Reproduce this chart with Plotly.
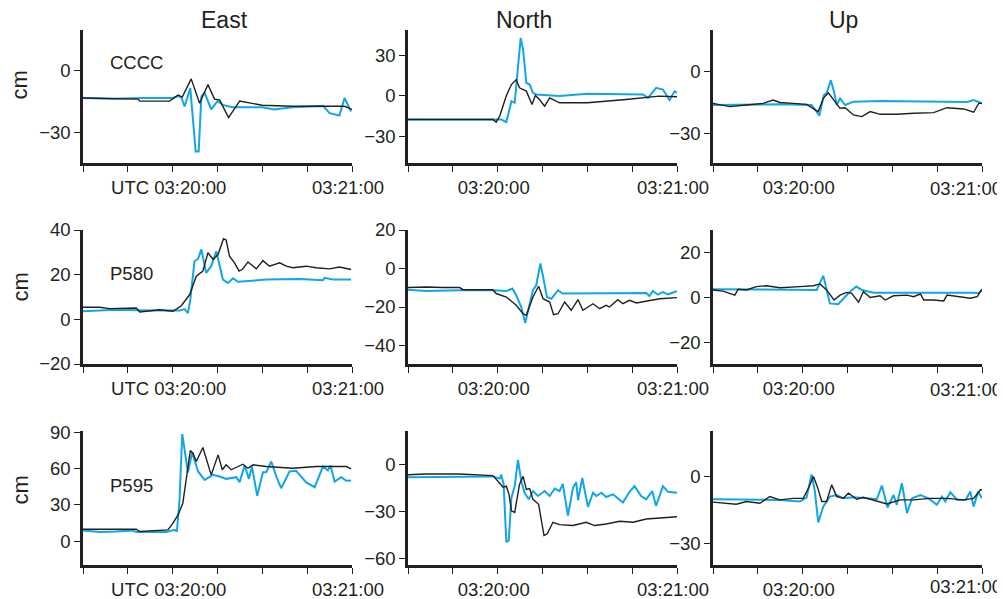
import plotly.graph_objects as go

# ---------------- data (seconds relative to UTC 03:20:00) ----------------
tick_vals = [-30, -15, 0, 15, 30, 45, 60]
tick_text_first = ["", "", "UTC 03:20:00", "", "", "", "03:21:00"]
tick_text_mid = ["", "", "03:20:00", "", "", "", "03:21:00"]
tick_text_last = ["", "", "03:20:00", "", "", "", ""]
end_label = "03:21:00"
components = ["East", "North", "Up"]
stations = ["CCCC", "P580", "P595"]

# CCCC East
t_cccc_e_k = [-30, -20, -11.6, -11, -1, 1.8, 3.2, 6.2, 9, 11.8, 14, 15.7, 18.7, 22.4, 30, 40, 50, 54, 57.5, 60]
v_cccc_e_k = [-13.5, -13.8, -14, -15, -15, -12, -13, -4.2, -16, -7, -14, -14.4, -23, -15, -17, -17.5, -17.5, -17.5, -17.5, -19]
t_cccc_e_b = [-30, -20, -10, 0, 2, 3, 4, 5.9, 7.7, 8.7, 9.6, 10.7, 12.9, 15, 16.8, 20, 30, 34, 40, 50.3, 52.5, 55.8, 57.5, 59.7]
v_cccc_e_b = [-13.5, -13.8, -13.5, -13.5, -12.5, -13.5, -17.6, -8.7, -39.4, -39.4, -12.7, -11, -19, -15, -16.8, -18, -18, -19, -18, -17.3, -20.8, -22, -13.5, -20]
# CCCC North
t_cccc_n_k = [-30, -20, -1.6, -0.5, 0.7, 2.9, 4.6, 6.2, 7.3, 9.6, 11.5, 12.6, 14, 15.7, 17.4, 20.7, 30, 43, 54, 60]
v_cccc_n_k = [-17.6, -17.6, -17.6, -19.6, -15, 0, 8.4, 12, 6, 3.5, -6.4, 0.2, -2.7, -7.7, -1.5, -5.2, -5.2, -2.7, -0.2, -0.7]
t_cccc_n_b = [-30, -10, 1.2, 2.9, 4.6, 5.7, 6.8, 7.7, 8.5, 9.6, 10.7, 11.8, 12.9, 20.7, 30, 48.6, 50.3, 53, 55.3, 57.5, 59.2, 60]
v_cccc_n_b = [-17.6, -17.6, -17.6, -19.6, -4, -5.2, 22, 43, 34.5, 9.7, 8.4, 2.2, 1, -0.2, 1.5, 1, -1.5, 6, 4.7, -3.2, 3.5, 2.2]
# CCCC Up
t_cccc_u_k = [-30, -24.4, -18.8, -13.2, -9.9, -7.6, -3.2, 1.3, 5.2, 6.9, 8.6, 10.3, 12.5, 14.2, 17, 19.8, 22.6, 25.9, 31.5, 37.1, 43.8, 48.3, 53.9, 57.2, 58.9, 60]
v_cccc_u_k = [-15.6, -17.2, -16.4, -15.6, -14, -15.2, -15.6, -16.1, -19.6, -13.2, -10.5, -14, -18, -17.7, -21.2, -22, -19.6, -20.9, -20.9, -20.4, -20.1, -17.7, -18.3, -19.9, -15.6, -15.6]
t_cccc_u_b = [-30, -18.8, -7.6, 3, 5.6, 7.1, 8, 9.4, 10.5, 11.4, 12.5, 14.2, 17, 25.9, 48.3, 55, 57.2, 60]
v_cccc_u_b = [-16.4, -16.1, -16.1, -16.4, -21.5, -11.6, -10.8, -4.5, -10, -16.4, -13.2, -16.4, -14.8, -14.5, -14.8, -14.9, -14, -15.6]

# P580 East
t_p580_e_k = [-30, -24.4, -21.1, -15.5, -12.2, -11, -4.4, 0.1, 2.9, 5.7, 7.9, 10.1, 11.8, 13.5, 15.2, 17, 17.9, 19, 20.7, 22.2, 23.3, 25.2, 28, 30.2, 32.4, 35.8, 38, 40.2, 44.7, 48, 52.5, 55.8, 59.7]
v_p580_e_k = [5.4, 5.4, 4.8, 4.8, 5.1, 3.3, 4.3, 3.6, 6.1, 11.1, 19.3, 21.6, 29.8, 26.8, 29, 36.1, 35.5, 28.3, 25.3, 21.6, 22.3, 25.7, 22.6, 26.3, 23.8, 25.3, 23.8, 23.1, 23.8, 23.1, 22.6, 23.4, 22.3]
t_p580_e_b = [-30, -18.9, -7.7, 2.3, 4, 5.1, 5.9, 7.3, 8.5, 9.6, 11.2, 12.9, 14.6, 15.7, 16.8, 18.5, 20.2, 21.8, 31.3, 42.5, 50.3, 50.8, 53.6, 59.7]
v_p580_e_b = [3.6, 4.3, 4, 3.9, 4.6, 2.8, 8.8, 26, 27.1, 31.3, 20.8, 23.8, 30.5, 24.6, 17.8, 16.3, 18.4, 16.8, 17.8, 18.1, 17.5, 18.6, 17.8, 17.8]
# P580 North
t_p580_n_k = [-30, -23.9, -18.3, -12.7, -11.6, -1.6, -0.5, 2.9, 6.2, 8.5, 9.6, 11.8, 13.7, 15.2, 17.4, 18.7, 20.2, 22.4, 24.6, 26.9, 28.5, 31.9, 34.1, 36.3, 37.4, 40.2, 41.9, 44.1, 46.4, 49.7, 54.2, 60]
v_p580_n_k = [-9.9, -9.6, -9.9, -9.9, -11, -11, -13, -14.8, -19.1, -23.5, -24.3, -14.8, -9.2, -15.7, -17.4, -24, -23.5, -17.4, -21.7, -16.2, -21.7, -18.3, -20.9, -19.1, -20, -16.2, -18.3, -16.5, -17.9, -16.9, -15.7, -15.1]
t_p580_n_b = [-30, -23.9, -12.7, -1.6, 2.9, 4.9, 6.2, 7.9, 9.2, 10.7, 11.8, 12.9, 14.3, 15.2, 16.5, 18, 20.2, 21.8, 31.9, 43, 49.7, 50.8, 51.9, 53.6, 55.3, 57, 59.2, 60]
v_p580_n_b = [-11, -11.7, -11.3, -11.3, -11.7, -10.4, -13.9, -20, -28.3, -18.3, -11.3, -8.7, 2.6, -4.3, -14.8, -15.7, -11.3, -13, -13, -12.7, -12.7, -14.3, -11.7, -13.6, -12.2, -13.4, -12.2, -11.8]
# P580 Up
t_p580_u_k = [-30, -26.6, -22.7, -21.6, -18.8, -15.5, -12.1, -7.6, -0.9, 3.6, 5.8, 8, 10.5, 12.5, 14.7, 16.4, 18.7, 20.3, 22.6, 25.9, 27.6, 30.4, 34.9, 37.1, 39.4, 40.5, 43.8, 47.2, 48.3, 52.8, 56.1, 58.4, 60]
v_p580_u_k = [3.3, 2.8, 1, 3.6, 3.3, 4.8, 5.2, 4.3, 4.8, 5.2, 6, 3.3, -1.2, 1, 2.2, 1.8, -2.2, 2.5, -0.1, 0.7, -1.2, 0.7, 1, 0.3, 1.5, -1.2, -1.2, -1.6, 1, 0.3, -0.4, 0.3, 3.7]
t_p580_u_b = [-30, -18.8, -7.6, 4.7, 6.9, 9.1, 11.9, 13.6, 15.3, 17.9, 19.8, 23.7, 37.1, 48.3, 57.2, 58.9, 60]
v_p580_u_b = [3.6, 3.6, 3.4, 3.3, 9.7, -2.7, -3.1, -0.4, 1.8, 4.8, 3.3, 2.1, 2.1, 2.2, 2.1, 1.8, 3.3]

# P595 East
t_p595_e_k = [-30, -24.4, -18.9, -12.2, -11, -4.4, -1.6, 0.1, 1.8, 3.4, 4.6, 5.9, 6.8, 7.9, 10.1, 12.9, 15.2, 16.6, 17.9, 19.6, 23.5, 25.2, 26.9, 31.3, 40.2, 48, 58.1, 59.7]
v_p595_e_k = [9.9, 9.9, 9.4, 9.9, 8, 8.8, 9.4, 14.9, 21.8, 31.4, 50.7, 74.9, 72.7, 65.8, 77.4, 54.8, 71.3, 59, 63.1, 59, 63.6, 60.3, 63.1, 61.7, 60.3, 61.7, 61.7, 59.8]
t_p595_e_b = [-30, -24.4, -18.9, -13.3, -12.2, -2.1, 0.7, 1.4, 2.3, 3.2, 4, 5.1, 6.5, 8.5, 10.7, 13.5, 15.7, 17.9, 21.3, 22.4, 24.1, 25.5, 26.5, 28.3, 30.2, 31.3, 33, 34.7, 36.3, 39.1, 41.3, 44.7, 47.5, 50.3, 51.9, 52.8, 54.2, 56.4, 58.1, 59.7]
v_p595_e_b = [8.8, 7.7, 8, 8.8, 7.7, 7.7, 9.4, 8, 34.2, 88.4, 75.5, 56.7, 73.3, 57.6, 50.7, 54.8, 53.4, 51.5, 52.9, 48.8, 62.5, 51.5, 61.7, 37.5, 57, 57, 65.8, 53.4, 43.8, 57.6, 58.1, 48.5, 44.6, 61.7, 58.4, 62.5, 49.3, 52.9, 49.9, 50.1]
# P595 North
t_p595_n_k = [-30, -23.9, -12.7, -1.6, 0.1, 1.8, 2.9, 3.8, 4.6, 5.7, 7.3, 8.5, 9.6, 10.7, 11.8, 13.7, 15.5, 16.6, 18.5, 20.7, 25.2, 29.6, 32.4, 36.3, 40.8, 45.3, 49.7, 54.2, 60]
v_p595_n_k = [-6.3, -5.9, -5.9, -6.9, -10.5, -14.3, -13.7, -18.9, -29.5, -30.5, -12.6, -7.4, -15.8, -15.2, -22.1, -25.3, -45.3, -44.2, -36.8, -38.3, -38.9, -36.8, -38.9, -37.9, -36.2, -36.8, -34.7, -34.1, -33.3]
t_p595_n_b = [-30, -12.7, -1.6, 0.7, 1.2, 2, 2.9, 3.7, 4.6, 5.7, 6.8, 7.9, 9, 10.4, 11.8, 13.5, 15.7, 17.4, 19.1, 20.7, 21.8, 23.5, 25.2, 26.3, 26.9, 28.3, 30.2, 31.9, 33, 34.7, 36.3, 38.6, 41.9, 44.1, 45.8, 48, 49.7, 51.7, 53, 55.3, 57, 60]
v_p595_n_b = [-8, -7.8, -7.4, -8.8, -6.3, -12.6, -49.5, -48.4, -21.1, -13.7, 3.2, -10.5, -17.9, -22.1, -16.8, -20, -16.8, -20, -15.2, -16.8, -12.2, -32.6, -14.7, -11.2, -22.7, -8.4, -26.9, -17.9, -20, -17.9, -20.6, -18.9, -24.2, -17.3, -13.7, -20, -22.1, -16.8, -26.3, -13.7, -17.3, -17.9]
# P595 Up
t_p595_u_k = [-30, -26.6, -22.2, -18.8, -14.3, -11, -7.6, -3.2, 0.2, 1.9, 3.6, 4.9, 6.4, 8, 9.7, 11.4, 13.6, 15.3, 18.1, 20.3, 23.7, 28.2, 32.6, 37.1, 42.7, 48.3, 53.9, 57.2, 59.5, 60]
v_p595_u_k = [-11.4, -11.9, -12.3, -11.1, -11.9, -8.9, -10.4, -9.7, -9.7, -5.2, 0, -4.5, -11.1, -11.1, -3.7, -8.9, -9.7, -7.4, -10.1, -9.2, -10.4, -12.2, -10.4, -10.4, -9.7, -9.7, -10.4, -9.7, -5.9, -5.9]
t_p595_u_b = [-30, -18.8, -7.6, -0.9, 1.3, 3, 4.1, 5.2, 6.9, 9.1, 11.4, 13.6, 17, 21.5, 24.8, 26.5, 28.4, 30.4, 31.5, 33.2, 34.9, 36.6, 39.4, 42.1, 44.9, 46.6, 47.7, 49.4, 51.7, 54.5, 56.1, 57.2, 58.7, 60]
v_p595_u_b = [-10.1, -10.4, -10.4, -11.1, -9.4, 1, -6.7, -20.4, -13.4, -8.9, -8.2, -9.7, -9.2, -9.7, -10.1, -4, -13.8, -8.2, -12.6, -3, -16.3, -9.7, -8.2, -9.7, -12.6, -8.9, -11.1, -7, -10.4, -10.4, -6.7, -13.4, -6.7, -9.7]

y_ranges = [[-45, 19.5], [-50, 49], [-44.4, 19.8],
            [-20, 40], [-49.6, 20], [-29.8, 30.1],
            [-19.6, 91], [-64.2, 21.7], [-39.4, 20.3]]
y_ticks = [[-30, 0], [-30, 0, 30], [-30, 0],
           [-20, 0, 20, 40], [-40, -20, 0, 20], [-20, 0, 20],
           [0, 30, 60, 90], [-60, -30, 0], [-30, 0]]

gps = [(t_cccc_e_k, v_cccc_e_k), (t_cccc_n_k, v_cccc_n_k), (t_cccc_u_k, v_cccc_u_k),
       (t_p580_e_k, v_p580_e_k), (t_p580_n_k, v_p580_n_k), (t_p580_u_k, v_p580_u_k),
       (t_p595_e_k, v_p595_e_k), (t_p595_n_k, v_p595_n_k), (t_p595_u_k, v_p595_u_k)]
sm = [(t_cccc_e_b, v_cccc_e_b), (t_cccc_n_b, v_cccc_n_b), (t_cccc_u_b, v_cccc_u_b),
      (t_p580_e_b, v_p580_e_b), (t_p580_n_b, v_p580_n_b), (t_p580_u_b, v_p580_u_b),
      (t_p595_e_b, v_p595_e_b), (t_p595_n_b, v_p595_n_b), (t_p595_u_b, v_p595_u_b)]

# ---------------- layout geometry (page pixels; page body has an 8px offset) ----------------
OFF = 8
W, H = 1005 - OFF, 599 - OFF
col_px = [(83, 352), (408, 677), (713, 982)]
row_px = [(30, 163), (230, 364), (431, 565)]
BLACK = "#231f20"
BLUE = "#12a6e4"
FONT = "Liberation Sans, Arial, Helvetica, sans-serif"


def px(xp):
    return (xp - OFF) / W


def py(yp):
    return 1 - (yp - OFF) / H


fig = go.Figure()
layout = dict(width=W, height=H, margin=dict(l=0, r=0, t=0, b=0, autoexpand=False),
              template="none",
              paper_bgcolor="white", plot_bgcolor="white", showlegend=False,
              font=dict(family=FONT, size=18.5, color=BLACK))

for i in range(9):
    r, c = divmod(i, 3)
    n = i + 1
    xa = f"x{n}" if n > 1 else "x"
    ya = f"y{n}" if n > 1 else "y"
    fig.add_trace(go.Scatter(x=sm[i][0], y=sm[i][1], mode="lines", xaxis=xa, yaxis=ya,
                             line=dict(color=BLUE, width=2), name="strong motion"))
    fig.add_trace(go.Scatter(x=gps[i][0], y=gps[i][1], mode="lines", xaxis=xa, yaxis=ya,
                             line=dict(color=BLACK, width=1.4), name="GPS"))
    x0, x1 = col_px[c]
    y0, y1 = row_px[r]
    ttext = [tick_text_first, tick_text_mid, tick_text_last][c]
    layout[f"xaxis{n}" if n > 1 else "xaxis"] = dict(
        domain=[px(x0), px(x1)], anchor=ya, range=[-30, 60], automargin=False,
        tickvals=tick_vals, ticktext=ttext, ticklabelshift=-4,
        showline=True, linecolor=BLACK, linewidth=2.5, ticks="outside", ticklen=6,
        tickwidth=1.2, tickcolor=BLACK, showgrid=False, zeroline=False,
        tickfont=dict(size=18.5, family=FONT, color=BLACK))
    layout[f"yaxis{n}" if n > 1 else "yaxis"] = dict(
        domain=[py(y1), py(y0)], anchor=xa, range=y_ranges[i], automargin=False,
        tickvals=y_ticks[i], showline=True, linecolor=BLACK, linewidth=2.5,
        ticks="outside", ticklen=6, tickwidth=1.2, tickcolor=BLACK,
        showgrid=False, zeroline=False,
        tickfont=dict(size=18.5, family=FONT, color=BLACK))

ann = []
title_px = [224, 524, 843]
for c in range(3):
    ann.append(dict(text=components[c], x=px(title_px[c]), y=py(20), xref="paper", yref="paper",
                    showarrow=False, xanchor="center", yanchor="middle",
                    font=dict(size=23, family=FONT, color=BLACK)))
cm_y = [85, 287, 490]
st_y = [62, 274, 485]
end_y = [188, 389, 586]
for r in range(3):
    ann.append(dict(text="cm", x=px(19.5), y=py(cm_y[r]), xref="paper", yref="paper",
                    showarrow=False, textangle=-90, xanchor="center", yanchor="middle",
                    font=dict(size=22, family=FONT, color=BLACK)))
    ann.append(dict(text=stations[r], x=px(108), y=py(st_y[r]), xref="paper", yref="paper",
                    showarrow=False, xanchor="left", yanchor="middle",
                    font=dict(size=18.5, family=FONT, color=BLACK)))
    # end-of-axis time label of the right-hand column, kept inside the page
    ann.append(dict(text=end_label, x=px(1004), y=py(end_y[r]), xref="paper", yref="paper",
                    showarrow=False, xanchor="right", yanchor="middle",
                    font=dict(size=18.5, family=FONT, color=BLACK)))
layout["annotations"] = ann
fig.update_layout(**layout)
fig.write_html("out.html")
